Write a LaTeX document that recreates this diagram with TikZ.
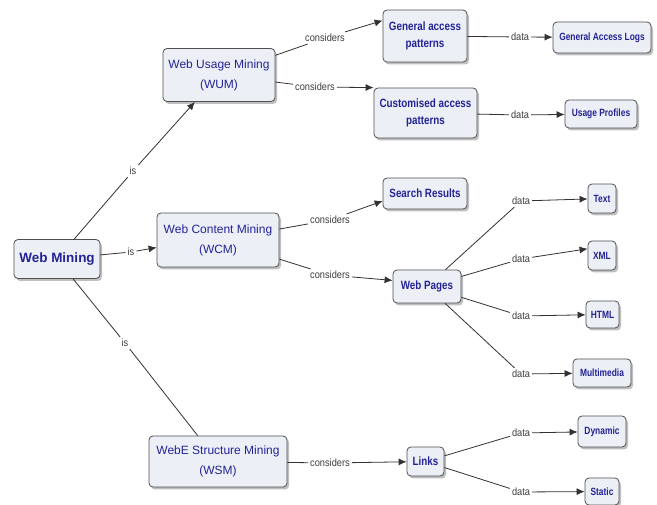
\documentclass[tikz,border=0pt]{standalone}
\usepackage{fontspec}
\setmainfont{Liberation Sans}
\newfontfamily\nfont{Liberation Sans}[FakeStretch=0.82]
\newfontfamily\sfont{Liberation Sans}[FakeStretch=0.8]
\newfontfamily\lfont{Liberation Sans}[FakeStretch=0.88]
\usetikzlibrary{arrows.meta,shadows}
\definecolor{txtblue}{RGB}{35,35,150}
\definecolor{boxfill}{RGB}{236,240,246}
\definecolor{boxline}{RGB}{80,80,80}
\definecolor{lncol}{RGB}{50,50,50}
\definecolor{lblcol}{RGB}{60,60,60}
\tikzset{
  box/.style={draw=boxline, line width=0.8pt, fill=boxfill, rounded corners=4pt,
    text=txtblue, align=center, inner sep=0pt,
    drop shadow={shadow xshift=2pt, shadow yshift=-2.5pt, fill=black, opacity=0.25}},
  bignode/.style={box, font=\fontsize{12}{20}\selectfont},
  rootnode/.style={box, font=\bfseries\fontsize{13.5}{16}\selectfont},
  midnode/.style={box, font=\nfont\bfseries\fontsize{12}{17}\selectfont},
  smallnode/.style={box, font=\sfont\bfseries\fontsize{10.5}{12}\selectfont},
  lbl/.style={font=\lfont\fontsize{10.5}{12}\selectfont, text=lblcol, inner sep=2pt},
  ln/.style={draw=lncol, line width=0.8pt},
  arr/.style={ln, -{Latex[length=8pt,width=7pt]}},
}
\begin{document}
\begin{tikzpicture}[x=1pt,y=-1pt]
\useasboundingbox[fill=white] (0,0) rectangle (657,505);

% main nodes
\node[rootnode, minimum width=86pt, minimum height=39pt] (wm) at (57,259) {Web Mining};
\node[bignode, minimum width=112pt, minimum height=53pt] (wum) at (219,75) {Web Usage Mining\\(WUM)};
\node[bignode, minimum width=122pt, minimum height=54pt] (wcm) at (218,240) {Web Content Mining\\(WCM)};
\node[bignode, minimum width=138pt, minimum height=51pt] (wsm) at (218,461.5) {WebE Structure Mining\\(WSM)};

% second level
\node[midnode, minimum width=84pt, minimum height=52pt] (gap) at (425,36) {General access\\patterns};
\node[midnode, minimum width=103pt, minimum height=50pt] (cap) at (425.5,113) {Customised access\\patterns};
\node[midnode, minimum width=84pt, minimum height=31pt] (sr) at (425,193.5) {Search Results};
\node[midnode, minimum width=68pt, minimum height=33pt] (wp) at (427,286.5) {Web Pages};
\node[midnode, minimum width=37pt, minimum height=29pt] (links) at (425.5,461.5) {Links};

% third level
\node[smallnode, minimum width=98pt, minimum height=31pt] (gal) at (602,37.5) {General Access Logs};
\node[smallnode, minimum width=72pt, minimum height=28pt] (up) at (601,114) {Usage Profiles};
\node[smallnode, minimum width=28pt, minimum height=29pt] (text) at (602,198.5) {Text};
\node[smallnode, minimum width=28pt, minimum height=29pt] (xml) at (602,255.5) {XML};
\node[smallnode, minimum width=33pt, minimum height=27pt] (html) at (602.5,314.5) {HTML};
\node[smallnode, minimum width=58pt, minimum height=28pt] (mm) at (602,373) {Multimedia};
\node[smallnode, minimum width=48pt, minimum height=31pt] (dyn) at (602,431.5) {Dynamic};
\node[smallnode, minimum width=34pt, minimum height=27pt] (static) at (602,491.5) {Static};

% labels
\node[lbl] (is1) at (133,171) {is};
\node[lbl] (is2) at (131,252) {is};
\node[lbl] (is3) at (125,343) {is};
\node[lbl] (c1) at (325,38) {considers};
\node[lbl] (c2) at (315,87) {considers};
\node[lbl] (c3) at (330,220) {considers};
\node[lbl] (c4) at (330,275) {considers};
\node[lbl] (c5) at (330,463) {considers};
\node[lbl] (d1) at (520,37) {data};
\node[lbl] (d2) at (520,115) {data};
\node[lbl] (d3) at (521,201) {data};
\node[lbl] (d4) at (521,259) {data};
\node[lbl] (d5) at (521,316) {data};
\node[lbl] (d6) at (521,374) {data};
\node[lbl] (d7) at (521,433) {data};
\node[lbl] (d8) at (521,492) {data};

% connectors
\draw[ln] (wm) -- (is1); \draw[arr] (is1) -- (wum);
\draw[ln] (wm) -- (is2); \draw[arr] (is2) -- (wcm.187);
\draw[ln] (wm) -- (is3); \draw[ln] (is3) -- (wsm);

\draw[ln] (wum) -- (c1); \draw[arr] (c1) -- (gap.160);
\draw[ln] (wum) -- (c2); \draw[arr] (c2) -- (cap.north west);
\draw[ln] (wcm) -- (c3); \draw[arr] (c3) -- (sr.190);
\draw[ln] (wcm) -- (c4); \draw[arr] (c4) -- (wp.170);
\draw[ln] (wsm) -- (c5); \draw[arr] (c5) -- (links);

\draw[ln] (gap) -- (d1); \draw[arr] (d1) -- (gal);
\draw[ln] (cap) -- (d2); \draw[arr] (d2) -- (up);
\draw[ln] (wp) -- (d3); \draw[arr] (d3) -- (text);
\draw[ln] (wp) -- (d4); \draw[arr] (d4) -- (xml.155);
\draw[ln] (wp) -- (d5); \draw[arr] (d5) -- (html);
\draw[ln] (wp) -- (d6); \draw[arr] (d6) -- (mm);
\draw[ln] (links) -- (d7); \draw[arr] (d7) -- (dyn);
\draw[ln] (links) -- (d8); \draw[arr] (d8) -- (static);
\end{tikzpicture}
\end{document}
